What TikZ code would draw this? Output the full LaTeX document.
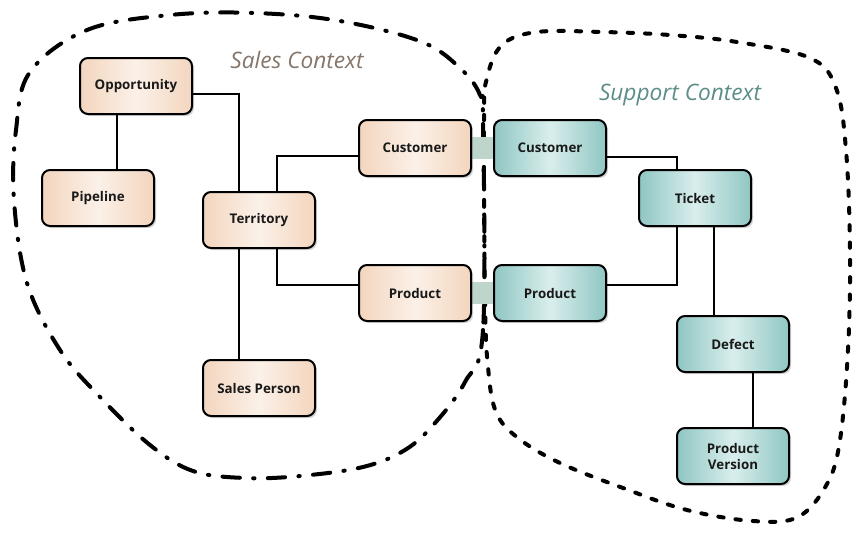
\documentclass[tikz,border=0pt]{standalone}
\usepackage{fontspec}
\setmainfont{Open Sans}
\usetikzlibrary{calc, shadows}
\definecolor{salesEdge}{HTML}{F3D5BE}
\definecolor{salesMid}{HTML}{FBF1E8}
\definecolor{supEdge}{HTML}{8FC6C3}
\definecolor{supMid}{HTML}{D9EEEC}
\definecolor{bandCol}{HTML}{BDD5CB}
\definecolor{salesText}{HTML}{857669}
\definecolor{supText}{HTML}{5C8D88}
\tikzset{
    box/.style = {draw, line width=1.5pt, rounded corners=6pt, minimum width=84pt, minimum height=42pt,
        align=center, font=\fontsize{10}{12}\selectfont\bfseries, text=black!90,
        drop shadow={opacity=0.35, shadow xshift=1.5pt, shadow yshift=-1.5pt}},
    salesBox/.style = {box, left color=salesEdge, right color=salesEdge, middle color=salesMid},
    supportBox/.style = {box, left color=supEdge, right color=supEdge, middle color=supMid},
    link/.style = {line width=1.1pt},
    band/.style = {line width=16pt, bandCol},
    context/.style = {font=\fontsize{17}{20}\selectfont\itshape}
}

\begin{document}
\begin{tikzpicture}[x=0.75pt, y=-0.75pt]
    \useasboundingbox (0,0) rectangle (865,536);

    \draw[line width=3pt, line cap=round, dash pattern=on 13pt off 10pt on 1pt off 10pt]
        plot[smooth cycle, tension=0.6] coordinates {(483,120) (483,330) (465,382) (435,423) (405,450)
        (363,467) (300,476) (245,478) (193,471) (150,445) (100,397) (60,350) (27,283) (14,200)
        (16,130) (30,72) (87,30) (170,15) (255,13) (340,21) (422,42) (462,70) (480,95)};
    \draw[line width=3pt, line cap=round, dash pattern=on 4pt off 9pt]
        plot[smooth cycle, tension=0.6] coordinates {(484,120) (485,300) (488,367) (496,412) (518,438)
        (560,463) (623,488) (687,510) (753,521) (798,517) (827,484) (840,440) (848,350) (850,250)
        (846,150) (836,88) (810,58) (737,42) (670,35) (603,32) (537,32) (502,45) (487,78)};

    \node[context, text=salesText] (salesLabel) at (297,60) {Sales Context};
    \node[context, text=supText] (supLabel) at (680,95) {Support Context};

    \draw[band] (415,148) -- (550,148);
    \draw[band] (415,293) -- (550,293);

    \node[salesBox] (opp) at (136,86) {Opportunity};
    \node[salesBox] (pipe) at (98,198) {Pipeline};
    \node[salesBox] (terr) at (259,220) {Territory};
    \node[salesBox] (sp) at (259,388) {Sales Person};
    \node[salesBox] (csale) at (415,148) {Customer};
    \node[salesBox] (psale) at (415,293) {Product};

    \node[supportBox] (csup) at (550,148) {Customer};
    \node[supportBox] (psup) at (550,293) {Product};
    \node[supportBox] (tick) at (695,198) {Ticket};
    \node[supportBox] (def) at (733,344) {Defect};
    \node[supportBox] (pv) at (733,456) {Product\\Version};

    \draw[link] ($(opp.east)+(0,8)$) -| ($(terr.north)+(-20,0)$);
    \draw[link] ($(opp.south)+(-19,0)$) -- ($(pipe.north)+(19,0)$);
    \draw[link] ($(terr.north)+(18,0)$) |- ($(csale.west)+(0,8)$);
    \draw[link] ($(terr.south)+(18,0)$) |- ($(psale.west)+(0,-8)$);
    \draw[link] ($(terr.south)+(-20,0)$) -- ($(sp.north)+(-20,0)$);
    \draw[link] ($(csup.east)+(0,9)$) -| ($(tick.north)+(-18,0)$);
    \draw[link] ($(tick.south)+(-18,0)$) |- ($(psup.east)+(0,-8)$);
    \draw[link] ($(tick.south)+(19,0)$) -- ($(def.north)+(-19,0)$);
    \draw[link] ($(def.south)+(20,0)$) -- ($(pv.north)+(20,0)$);
\end{tikzpicture}
\end{document}
